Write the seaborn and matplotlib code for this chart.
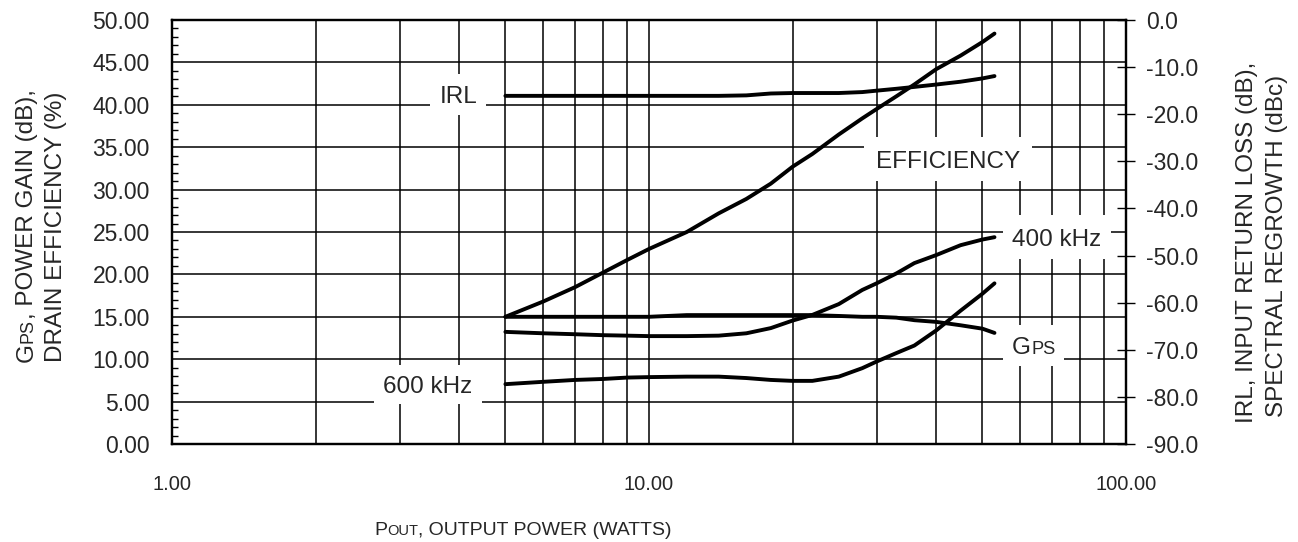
import pandas as pd
import seaborn as sns
import matplotlib.pyplot as plt
from matplotlib.ticker import FixedLocator, MultipleLocator, NullFormatter
from matplotlib.patches import Rectangle

# output power (W) sample points, shared by all curves
pout = [5, 6, 7, 8, 9, 10, 12, 14, 16, 18, 20, 22, 25, 28, 30, 33, 36, 40, 45, 50, 53]

# left axis: dB / %
gps = [15.0, 15.0, 15.0, 15.0, 15.0, 15.0, 15.2, 15.2, 15.2, 15.2, 15.2,
       15.2, 15.1, 15.0, 15.0, 14.9, 14.6, 14.4, 14.0, 13.6, 13.1]
efficiency = [15.0, 16.8, 18.5, 20.2, 21.7, 23.0, 25.0, 27.2, 28.9, 30.7, 32.7,
              34.2, 36.5, 38.4, 39.5, 41.0, 42.4, 44.2, 45.8, 47.4, 48.4]

# right axis: dB / dBc
irl = [-16.1, -16.1, -16.1, -16.1, -16.1, -16.1, -16.1, -16.1, -16.0, -15.6, -15.5,
       -15.5, -15.5, -15.3, -15.0, -14.6, -14.2, -13.7, -13.1, -12.4, -11.9]
regrowth_400 = [-66.2, -66.5, -66.7, -66.9, -67.0, -67.1, -67.1, -67.0, -66.5, -65.4, -63.8,
                -62.6, -60.3, -57.3, -55.9, -53.8, -51.6, -49.9, -47.8, -46.6, -46.1]
regrowth_600 = [-77.3, -76.8, -76.4, -76.2, -75.9, -75.8, -75.7, -75.7, -76.0, -76.4, -76.6,
                -76.6, -75.7, -73.9, -72.5, -70.7, -69.1, -65.9, -61.7, -58.1, -55.9]

x_ticks = [1, 10, 100]
x_tick_labels = ["1.00", "10.00", "100.00"]
left_ticks = [0, 5, 10, 15, 20, 25, 30, 35, 40, 45, 50]
left_tick_labels = ["0.00", "5.00", "10.00", "15.00", "20.00", "25.00",
                    "30.00", "35.00", "40.00", "45.00", "50.00"]
right_ticks = [-90, -80, -70, -60, -50, -40, -30, -20, -10, 0]
right_tick_labels = ["-90.0", "-80.0", "-70.0", "-60.0", "-50.0",
                     "-40.0", "-30.0", "-20.0", "-10.0", "0.0"]

sns.set_style("white")
plt.rcParams['font.family'] = ['Liberation Sans', 'DejaVu Sans']

W, H = 1298, 542
fig = plt.figure(figsize=(W / 100, H / 100), dpi=100)
ax = fig.add_axes([172 / W, 98 / H, 954 / W, 424 / H])
ax2 = ax.twinx()

left = pd.DataFrame({"pout": pout, "gps": gps, "eff": efficiency})
right = pd.DataFrame({"pout": pout, "irl": irl, "r400": regrowth_400, "r600": regrowth_600})

for col in ["gps", "eff"]:
    sns.lineplot(data=left, x="pout", y=col, ax=ax, color="black", lw=2.8)
for col in ["irl", "r400", "r600"]:
    sns.lineplot(data=right, x="pout", y=col, ax=ax2, color="black", lw=2.8)

ax.set_xscale("log")
ax.set_xlim(1, 100)
ax.set_ylim(0, 50)
ax2.set_ylim(-90, 0)
ax.set_xlabel("")
ax.set_ylabel("")
ax2.set_ylabel("")

ax.set_xticks(x_ticks)
ax.set_xticklabels(x_tick_labels)
ax.xaxis.set_minor_locator(FixedLocator([k * 10 ** d for d in (0, 1) for k in range(2, 10)]))
ax.xaxis.set_minor_formatter(NullFormatter())
ax.tick_params(axis="x", which="both", length=0, labelsize=14.5, pad=22)

ax.set_yticks(left_ticks)
ax.set_yticklabels(left_tick_labels)
ax.yaxis.set_minor_locator(MultipleLocator(1))
ax.tick_params(axis="y", which="major", length=0, labelsize=16.5, pad=16)
ax.tick_params(axis="y", which="minor", left=True, direction="in", length=4.5, width=1, color="black")

ax2.set_yticks(right_ticks)
ax2.set_yticklabels(right_tick_labels)
ax2.tick_params(axis="y", right=True, direction="inout", length=13, width=1,
                color="black", labelsize=16.5, pad=8)

ax.grid(True, which="both", axis="x", color="black", lw=1.1)
ax.grid(True, which="major", axis="y", color="black", lw=1.1)
ax2.grid(False)
for a in (ax, ax2):
    for s in a.spines.values():
        s.set_color("black")
        s.set_linewidth(1.6)

renderer = fig.canvas.get_renderer()


def place_parts(parts, x, y, rot=0, center=True, z=6):
    # draw text pieces (mixed sizes) one after another, x/y in pixels
    arts = [fig.text(0, 0, s, fontsize=sz, rotation=rot, rotation_mode="anchor",
                     ha="left", va="baseline", zorder=z) for s, sz in parts]
    lens = []
    for t in arts:
        bb = t.get_window_extent(renderer)
        lens.append(bb.height if rot else bb.width)
    pos = -sum(lens) / 2 if center else 0
    for t, L in zip(arts, lens):
        if rot:
            t.set_position((x / W, (y + pos) / H))
        else:
            t.set_position(((x + pos) / W, y / H))
        pos += L
    return sum(lens)


def boxed_label(parts, xd, yd, pad_x=9, pad_y=12):
    cx, cy = ax.transData.transform((xd, yd))
    cap = 0.72 * max(sz for _, sz in parts) * 100 / 72
    total = place_parts(parts, cx, cy - cap / 2)
    fig.add_artist(Rectangle(((cx - total / 2 - pad_x) / W, (cy - cap / 2 - pad_y) / H),
                             (total + 2 * pad_x) / W, (cap + 2 * pad_y) / H,
                             transform=fig.transFigure, facecolor="white",
                             edgecolor="none", zorder=4))


fs = 17.5
boxed_label([("IRL", fs)], 3.98, 41.2)
boxed_label([("EFFICIENCY", fs)], 42.3, 33.6, pad_x=12, pad_y=13)
boxed_label([("400 kHz", fs)], 71.7, 24.4, pad_y=13)
boxed_label([("G", fs), ("PS", fs * 0.75)], 64.1, 11.6)
boxed_label([("600 kHz", fs)], 3.44, 7.0, pad_y=11)

# axis titles
place_parts([("P", 14), ("OUT", 10.5), (", OUTPUT POWER (WATTS)", 14)], 523, 7)
place_parts([("G", 17.5), ("PS", 13), (", POWER GAIN (dB),", 17.5)], 33, 180, rot=90, center=False)
place_parts([("DRAIN EFFICIENCY (%)", 17.5)], 62, 180, rot=90, center=False)
place_parts([("IRL, INPUT RETURN LOSS (dB),", 17.5)], 1253, 119, rot=90, center=False)
place_parts([("SPECTRAL REGROWTH (dBc)", 17.5)], 1283, 125, rot=90, center=False)

fig.savefig("out.png", dpi=100)
